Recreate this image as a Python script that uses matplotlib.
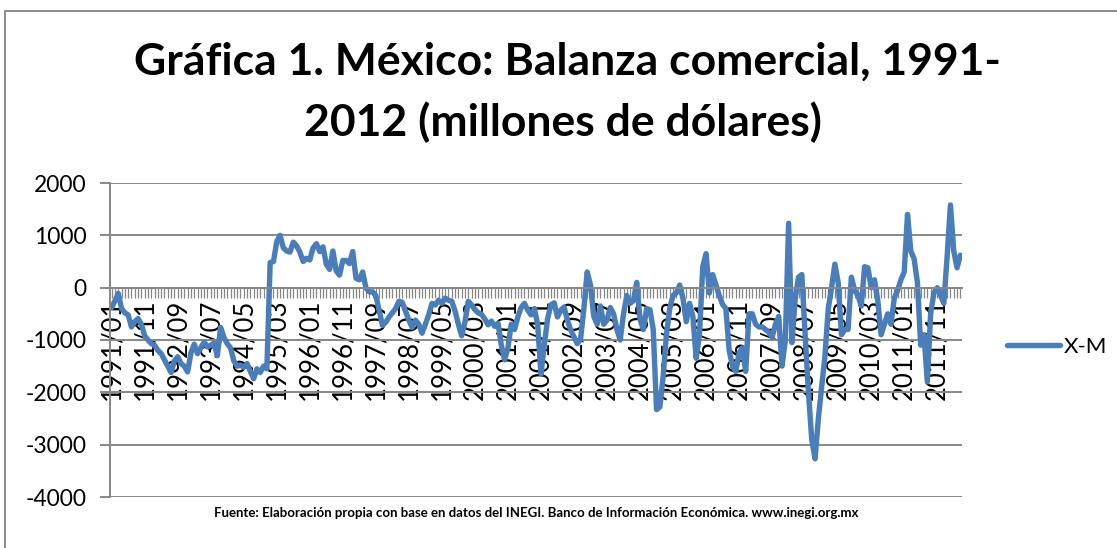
import numpy as np
import matplotlib
matplotlib.use("Agg")
import matplotlib.pyplot as plt
from matplotlib.patches import Rectangle

plt.rcParams['font.family'] = ['Lato', 'DejaVu Sans']
plt.rcParams['axes.unicode_minus'] = False

# datos mensuales X-M (millones de dólares), 1991/01 - 2012/06
x_m_1991 = [-380, -250, -110, -400, -480, -520, -750, -650, -590, -700, -920, -1000]
x_m_1992 = [-1070, -1100, -1200, -1260, -1380, -1500, -1620, -1400, -1320, -1450, -1500, -1610]
x_m_1993 = [-1250, -1080, -1260, -1150, -1040, -1130, -1100, -1060, -1300, -760, -950, -1070]
x_m_1994 = [-1150, -1400, -1500, -1480, -1520, -1450, -1600, -1740, -1550, -1620, -1500, -1550]
x_m_1995 = [480, 500, 880, 1000, 760, 700, 680, 870, 800, 680, 500, 560]
x_m_1996 = [530, 760, 840, 690, 780, 450, 350, 700, 320, 240, 520, 520]
x_m_1997 = [460, 690, 180, 150, 300, 0, -80, -80, -150, -430, -720, -660]
x_m_1998 = [-560, -480, -400, -260, -280, -450, -620, -760, -620, -700, -870, -700]
x_m_1999 = [-520, -300, -330, -240, -300, -200, -240, -260, -450, -700, -920, -650]
x_m_2000 = [-260, -330, -420, -480, -510, -600, -710, -640, -740, -680, -1100, -1380]
x_m_2001 = [-1150, -700, -800, -560, -380, -300, -430, -520, -400, -700, -1650, -1100]
x_m_2002 = [-600, -330, -290, -560, -430, -370, -620, -810, -940, -1070, -980, -400]
x_m_2003 = [300, 50, -550, -700, -350, -700, -620, -380, -500, -800, -1000, -500]
x_m_2004 = [-150, -300, -250, 100, -600, -800, -400, -420, -800, -2330, -2280, -1700]
x_m_2005 = [-900, -400, -150, -100, 50, -200, -650, -300, -550, -1350, -900, 400]
x_m_2006 = [650, -100, 250, 50, -150, -320, -400, -1200, -1500, -1600, -1250, -1150]
x_m_2007 = [-1600, -500, -500, -700, -750, -750, -800, -850, -950, -700, -550, -1500]
x_m_2008 = [-1000, 1230, -1050, -200, 200, 250, -900, -2000, -2900, -3270, -2500, -1900]
x_m_2009 = [-1300, -400, 0, 450, 100, -900, -800, -800, 200, -50, -150, -350]
x_m_2010 = [400, 380, 0, 150, -250, -900, -700, -500, -700, -200, -50, 150]
x_m_2011 = [300, 1400, 700, 550, 100, -1100, -900, -1800, -500, -100, 0, -150]
x_m_2012 = [-300, 600, 1580, 700, 380, 620]

serie = (x_m_1991 + x_m_1992 + x_m_1993 + x_m_1994 + x_m_1995 + x_m_1996 +
         x_m_1997 + x_m_1998 + x_m_1999 + x_m_2000 + x_m_2001 + x_m_2002 +
         x_m_2003 + x_m_2004 + x_m_2005 + x_m_2006 + x_m_2007 + x_m_2008 +
         x_m_2009 + x_m_2010 + x_m_2011 + x_m_2012)

# etiquetas "AAAA/MM" para cada mes
meses = []
for i in range(len(serie)):
    meses.append("%d/%02d" % (1991 + i // 12, i % 12 + 1))

gris = '#878787'
azul = '#4A7EBB'

fig = plt.figure(figsize=(11.17, 5.48), dpi=100)
ax = fig.add_axes([110 / 1117, 1 - 497 / 548, 852 / 1117, 314 / 548])

x = np.arange(len(serie))
ax.plot(x, serie, color=azul, lw=3.9, solid_joinstyle='round', solid_capstyle='round', label='X-M')

ax.set_xlim(-0.5, len(serie) - 0.5)
ax.set_ylim(-4000, 2000)
ax.set_yticks(np.arange(-4000, 2001, 1000))
ax.yaxis.grid(True, color=gris, lw=1.4)
ax.tick_params(axis='y', length=7, width=1.4, color=gris, labelsize=16.5, pad=10)

# eje de categorías cruzando en 0, marca cada mes
ax.spines['bottom'].set_position(('data', 0))
ax.spines['bottom'].set_color(gris)
ax.spines['bottom'].set_linewidth(1.4)
ax.spines['left'].set_color(gris)
ax.spines['left'].set_linewidth(1.4)
ax.spines['top'].set_visible(False)
ax.spines['right'].set_visible(False)
ax.set_xticks(x[::10])
ax.set_xticklabels(meses[::10], rotation=90)
ax.set_xticks(x, minor=True)
ax.tick_params(axis='x', which='both', length=7, width=0.9, color=gris, direction='out')
ax.tick_params(axis='x', which='major', labelsize=18.5, pad=1)

fig.text(567 / 1117, 1 - 62 / 548, 'Gráfica 1. México: Balanza comercial, 1991-',
         ha='center', va='center', fontsize=32, fontweight='bold')
fig.text(563 / 1117, 1 - 122 / 548, '2012 (millones de dólares)',
         ha='center', va='center', fontsize=32, fontweight='bold')
fig.text(536 / 1117, 1 - 513 / 548,
         'Fuente: Elaboración propia con base en datos del INEGI. Banco de Información Económica. www.inegi.org.mx',
         ha='center', va='center', fontsize=9.5, fontweight='bold')

fig.legend(loc='center left', bbox_to_anchor=(998 / 1117, 1 - 347 / 548), frameon=False,
           borderaxespad=0, fontsize=16, handlelength=2.4, handletextpad=0.15)

# borde del área del gráfico
fig.patches.append(Rectangle((5 / 1117, -0.1), 1.2, 1.1 - 11 / 548, transform=fig.transFigure,
                             fill=False, ec='#8c8c8c', lw=1.4))

plt.savefig('out.png', dpi=100)
